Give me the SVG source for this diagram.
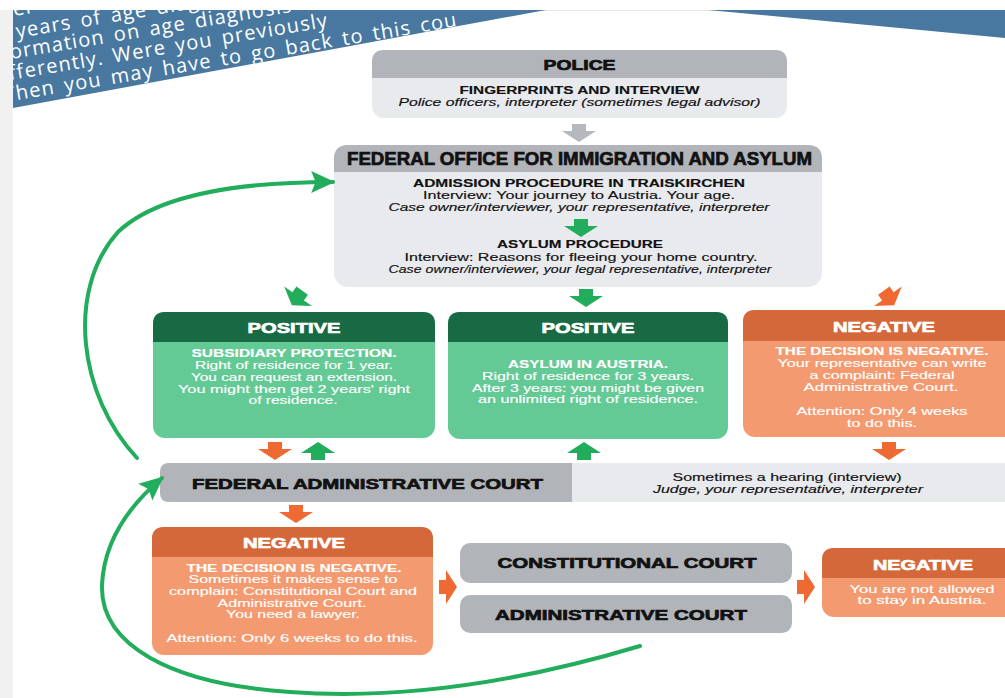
<svg xmlns="http://www.w3.org/2000/svg" width="1005" height="698" viewBox="0 0 1005 698">
<style>
.t{font-family:"Liberation Sans",Arial,sans-serif;text-anchor:middle}
.h{font-weight:bold;stroke-width:0.7;paint-order:stroke}
.hw{fill:#fff;stroke:#fff}
.hb{fill:#111;stroke:#111}
.bw{fill:#fff;font-size:11px;stroke:#fff;stroke-width:0.15}
.bb{fill:#111;font-size:11px;stroke:#111;stroke-width:0.15}
.bold{font-weight:bold}
.it{font-style:italic}
.bn{font-family:"Open Sans","Liberation Sans",sans-serif;font-size:20px;fill:#fff;letter-spacing:1.2px;word-spacing:3px}
.ga{fill:#22ad5c}
.oa{fill:#ee6a32}
.gy{fill:#b5b8bd}
.hdrG{fill:#b1b4b9}
.bodyG{fill:#e9eaee}
.hdrDG{fill:#176a43}
.bodyLG{fill:#63c995}
.hdrO{fill:#d5683a}
.bodyO{fill:#f49a70}
.curve{fill:none;stroke:#22ad5c;stroke-width:4;stroke-linecap:round}
</style>
<defs>
<path id="arr" d="M-7,-9 H7 V-2 H17 L0,9 L-17,-2 H-7 Z"/>
<marker id="gh" markerUnits="userSpaceOnUse" markerWidth="24" markerHeight="24" viewBox="0 0 22 22" refX="20" refY="11" orient="auto">
<path d="M0,1 L22,11 L0,21 L4,11 Z" fill="#22ad5c"/>
</marker>
<clipPath id="bclip"><polygon points="13,10 546,10 13,108"/></clipPath>
</defs>
<rect width="1005" height="698" fill="#fff"/>
<rect x="0" y="10" width="13" height="688" fill="#f1f1f2"/>
<line x1="13" y1="10.5" x2="1005" y2="10.5" stroke="#e6e7e9" stroke-width="1"/>
<g id="banner-left">
<polygon points="13,10 546,10 13,108" fill="#4878a0"/>
<g clip-path="url(#bclip)">
<text class="bn" x="14" y="16" transform="rotate(-9.5 14 16)">er</text>
<text class="bn" x="17" y="38" transform="rotate(-9.5 17 38)" word-spacing="6">years of age diag</text>
<text class="bn" x="11" y="59" transform="rotate(-9.5 11 59)">ormation on age diagnosis</text>
<text class="bn" x="10" y="80" transform="rotate(-9.5 10 80)">fferently. Were you previously</text>
<text class="bn" x="5" y="102" transform="rotate(-9.5 5 102)">Then you may have to go back to this cou</text>
</g>
</g>
<g id="banner-right"><polygon points="708,10 1005,10 1005,38" fill="#4878a0"/></g>

<g id="police">
<rect x="372" y="50" width="415" height="68" rx="12" class="bodyG"/>
<path d="M372,78 V62 Q372,50 384,50 H775 Q787,50 787,62 V78 Z" class="hdrG"/>
<text class="t h hb" x="579.5" y="70" font-size="14" textLength="72" lengthAdjust="spacingAndGlyphs">POLICE</text>
<text class="t bb bold" x="579.5" y="94" textLength="240" lengthAdjust="spacingAndGlyphs">FINGERPRINTS AND INTERVIEW</text>
<text class="t bb it" x="579.5" y="106" textLength="362" lengthAdjust="spacingAndGlyphs">Police officers, interpreter (sometimes legal advisor)</text>
</g>

<g id="federal-office">
<rect x="334" y="145" width="488" height="142" rx="14" class="bodyG"/>
<path d="M334,172 V159 Q334,145 348,145 H808 Q822,145 822,159 V172 Z" class="hdrG"/>
<text class="t h hb" x="579.5" y="165" font-size="18" textLength="465" lengthAdjust="spacingAndGlyphs">FEDERAL OFFICE FOR IMMIGRATION AND ASYLUM</text>
<text class="t bb bold" x="579" y="187" textLength="332" lengthAdjust="spacingAndGlyphs">ADMISSION PROCEDURE IN TRAISKIRCHEN</text>
<text class="t bb" x="579" y="199" textLength="312" lengthAdjust="spacingAndGlyphs">Interview: Your journey to Austria. Your age.</text>
<text class="t bb it" x="579" y="211" textLength="381" lengthAdjust="spacingAndGlyphs">Case owner/interviewer, your representative, interpreter</text>
<text class="t bb bold" x="580" y="248" textLength="166" lengthAdjust="spacingAndGlyphs">ASYLUM PROCEDURE</text>
<text class="t bb" x="581" y="261" textLength="353" lengthAdjust="spacingAndGlyphs">Interview: Reasons for fleeing your home country.</text>
<text class="t bb it" x="580" y="273" textLength="383" lengthAdjust="spacingAndGlyphs">Case owner/interviewer, your legal representative, interpreter</text>
</g>

<g id="positive-subsidiary">
<rect x="153" y="312" width="282" height="126" rx="12" class="bodyLG"/>
<path d="M153,342 V324 Q153,312 165,312 H423 Q435,312 435,324 V342 Z" class="hdrDG"/>
<text class="t h hw" x="294" y="333" font-size="15" textLength="93" lengthAdjust="spacingAndGlyphs">POSITIVE</text>
<text class="t bw bold" x="294" y="357" textLength="205" lengthAdjust="spacingAndGlyphs">SUBSIDIARY PROTECTION.</text>
<text class="t bw" x="294" y="369" textLength="198" lengthAdjust="spacingAndGlyphs">Right of residence for 1 year.</text>
<text class="t bw" x="294" y="381" textLength="206" lengthAdjust="spacingAndGlyphs">You can request an extension.</text>
<text class="t bw" x="294" y="393" textLength="232" lengthAdjust="spacingAndGlyphs">You might then get 2 years' right</text>
<text class="t bw" x="293" y="404" textLength="89" lengthAdjust="spacingAndGlyphs">of residence.</text>
</g>

<g id="positive-asylum">
<rect x="448" y="312" width="280" height="127" rx="12" class="bodyLG"/>
<path d="M448,342 V324 Q448,312 460,312 H716 Q728,312 728,324 V342 Z" class="hdrDG"/>
<text class="t h hw" x="588" y="333" font-size="15" textLength="93" lengthAdjust="spacingAndGlyphs">POSITIVE</text>
<text class="t bw bold" x="588" y="368" textLength="160" lengthAdjust="spacingAndGlyphs">ASYLUM IN AUSTRIA.</text>
<text class="t bw" x="588" y="380" textLength="212" lengthAdjust="spacingAndGlyphs">Right of residence for 3 years.</text>
<text class="t bw" x="588" y="392" textLength="232" lengthAdjust="spacingAndGlyphs">After 3 years: you might be given</text>
<text class="t bw" x="588" y="403" textLength="220" lengthAdjust="spacingAndGlyphs">an unlimited right of residence.</text>
</g>

<g id="negative-office">
<rect x="743" y="310" width="290" height="127" rx="12" class="bodyO"/>
<path d="M743,341 V322 Q743,310 755,310 H1033 V341 Z" class="hdrO"/>
<text class="t h hw" x="884" y="332" font-size="15" textLength="102" lengthAdjust="spacingAndGlyphs">NEGATIVE</text>
<text class="t bw bold" x="882" y="355" textLength="213" lengthAdjust="spacingAndGlyphs">THE DECISION IS NEGATIVE.</text>
<text class="t bw" x="882" y="367" textLength="209" lengthAdjust="spacingAndGlyphs">Your representative can write</text>
<text class="t bw" x="882" y="379" textLength="145" lengthAdjust="spacingAndGlyphs">a complaint: Federal</text>
<text class="t bw" x="881" y="391" textLength="155" lengthAdjust="spacingAndGlyphs">Administrative Court.</text>
<text class="t bw" x="882" y="415" textLength="171" lengthAdjust="spacingAndGlyphs">Attention: Only 4 weeks</text>
<text class="t bw" x="882" y="427" textLength="70" lengthAdjust="spacingAndGlyphs">to do this.</text>
</g>

<g id="federal-administrative-court">
<rect x="160" y="463" width="870" height="39" rx="9" class="bodyG"/>
<path d="M572,463 V502 H169 Q160,502 160,493 V472 Q160,463 169,463 Z" class="hdrG"/>
<text class="t h hb" x="367.5" y="489" font-size="15" textLength="351" lengthAdjust="spacingAndGlyphs">FEDERAL ADMINISTRATIVE COURT</text>
<text class="t bb" x="787" y="481" textLength="229" lengthAdjust="spacingAndGlyphs">Sometimes a hearing (interview)</text>
<text class="t bb it" x="788" y="493" textLength="270" lengthAdjust="spacingAndGlyphs">Judge, your representative, interpreter</text>
</g>

<g id="negative-court">
<rect x="152" y="527" width="281" height="128" rx="12" class="bodyO"/>
<path d="M152,557 V539 Q152,527 164,527 H421 Q433,527 433,539 V557 Z" class="hdrO"/>
<text class="t h hw" x="294" y="548" font-size="15" textLength="102" lengthAdjust="spacingAndGlyphs">NEGATIVE</text>
<text class="t bw bold" x="294" y="572" textLength="215" lengthAdjust="spacingAndGlyphs">THE DECISION IS NEGATIVE.</text>
<text class="t bw" x="293" y="583" textLength="209" lengthAdjust="spacingAndGlyphs">Sometimes it makes sense to</text>
<text class="t bw" x="293" y="595" textLength="248" lengthAdjust="spacingAndGlyphs">complain: Constitutional Court and</text>
<text class="t bw" x="292" y="607" textLength="149" lengthAdjust="spacingAndGlyphs">Administrative Court.</text>
<text class="t bw" x="293" y="618" textLength="134" lengthAdjust="spacingAndGlyphs">You need a lawyer.</text>
<text class="t bw" x="292" y="642" textLength="251" lengthAdjust="spacingAndGlyphs">Attention: Only 6 weeks to do this.</text>
</g>

<g id="constitutional-court">
<rect x="460" y="543" width="332" height="40" rx="10" class="hdrG"/>
<text class="t h hb" x="627" y="568" font-size="15" textLength="259" lengthAdjust="spacingAndGlyphs">CONSTITUTIONAL COURT</text>
</g>

<g id="administrative-court">
<rect x="460" y="595" width="332" height="38" rx="10" class="hdrG"/>
<text class="t h hb" x="621" y="620" font-size="15" textLength="252" lengthAdjust="spacingAndGlyphs">ADMINISTRATIVE COURT</text>
</g>

<g id="negative-final">
<rect x="822" y="548" width="200" height="69" rx="12" class="bodyO"/>
<path d="M822,578 V560 Q822,548 834,548 H1022 V578 Z" class="hdrO"/>
<text class="t h hw" x="923" y="570" font-size="15" textLength="100" lengthAdjust="spacingAndGlyphs">NEGATIVE</text>
<text class="t bw" x="922" y="593" textLength="145" lengthAdjust="spacingAndGlyphs">You are not allowed</text>
<text class="t bw" x="922" y="604" textLength="129" lengthAdjust="spacingAndGlyphs">to stay in Austria.</text>
</g>

<g id="connectors">
<path class="curve" d="M137,458 C78,395 66,290 118,232 C160,192 250,182 333,182" marker-end="url(#gh)"/>
<path class="curve" d="M640,646 C520,682 400,700 290,692 C170,684 100,645 102,585 C104,540 130,505 162,478" marker-end="url(#gh)"/>
<use href="#arr" class="gy" transform="translate(579,133)"/>
<use href="#arr" class="ga" transform="translate(581,228)"/>
<use href="#arr" class="ga" transform="translate(297,298) rotate(35)"/>
<use href="#arr" class="ga" transform="translate(586,298)"/>
<use href="#arr" class="oa" transform="translate(889,298) rotate(-35)"/>
<use href="#arr" class="oa" transform="translate(275,451)"/>
<use href="#arr" class="ga" transform="translate(318,451) rotate(180)"/>
<use href="#arr" class="ga" transform="translate(584,451) rotate(180)"/>
<use href="#arr" class="oa" transform="translate(889,451)"/>
<use href="#arr" class="oa" transform="translate(296,514)"/>
<use href="#arr" class="oa" transform="translate(448,587) rotate(-90)"/>
<use href="#arr" class="oa" transform="translate(806,587) rotate(-90)"/>
</g>
</svg>
